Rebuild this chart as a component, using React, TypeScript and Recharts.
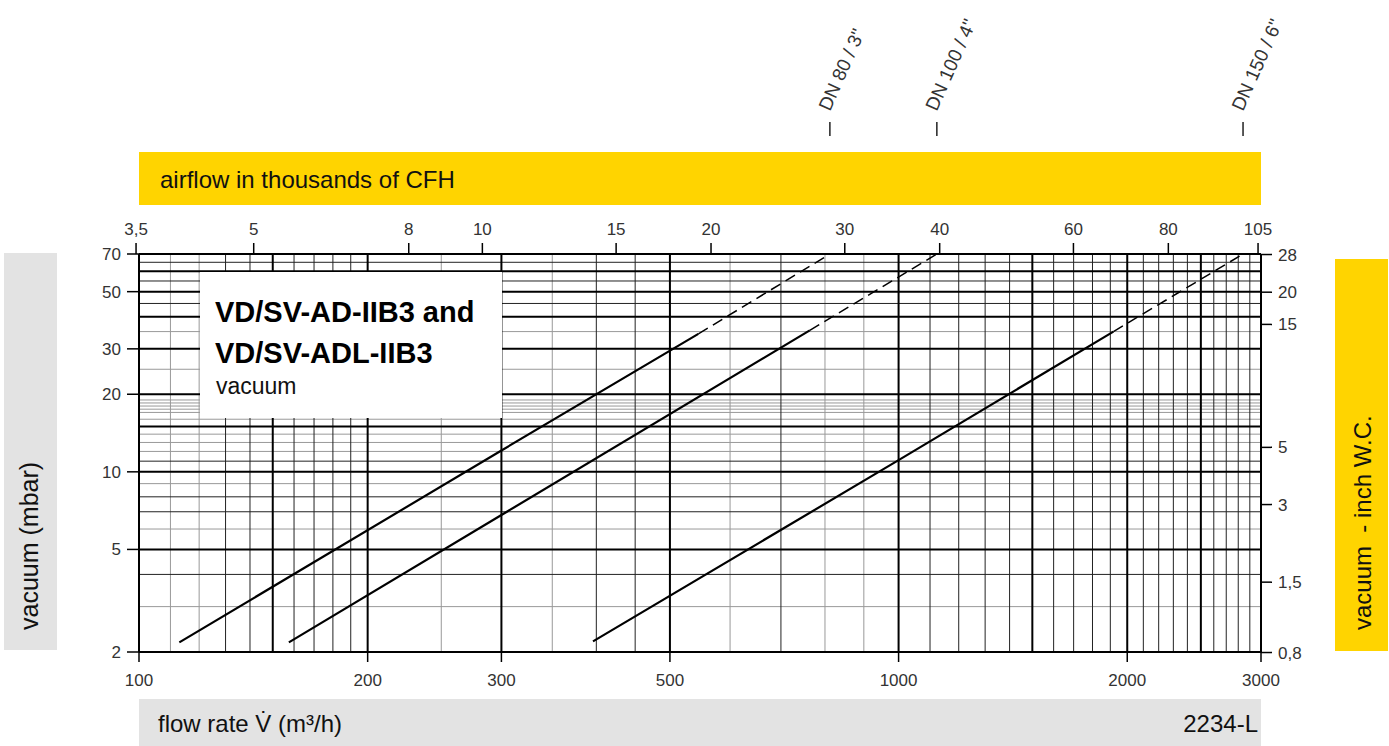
import React from "react";
import { ComposedChart, Line, XAxis, YAxis, ReferenceLine } from "recharts";

// axis ticks
const flowTicks = [100, 200, 300, 500, 1000, 2000, 3000]; // m³/h
const vacuumTicks = [2, 5, 10, 20, 30, 50, 70]; // mbar
const cfhTicks = [3.5, 5, 8, 10, 15, 20, 30, 40, 60, 80, 105]; // thousands of CFH
const inchTicks = [0.8, 1.5, 3, 5, 15, 20, 28]; // inch W.C.

// log grid (m³/h and mbar)
const gridXMajor = [100, 150, 200, 300, 500, 1000, 1500, 2000, 2500, 3000];
const gridXMinor = [130, 140, 160, 170, 180, 190, 400, 450, 700, 1100, 1200, 1300, 1400, 1600, 1700, 1800, 1900, 2100, 2200, 2300, 2400, 2600, 2700, 2800, 2900];
const gridXLight = [110, 120, 250, 350, 600, 800, 900];
const gridYMajor = [2, 5, 10, 15, 20, 30, 40, 50, 60, 70];
const gridYMinor = [4, 7, 8, 11, 45, 55, 65];
const gridYLight = [3, 6, 9, 12, 13, 14, 16, 17, 17.5, 18, 18.5, 19, 25, 35];

// curves: solid part and dashed extension
const dn80Solid = [{ q: 113, p: 2.18 }, { q: 300, p: 12.1 }, { q: 545, p: 34.3 }];
const dn80Dashed = [{ q: 545, p: 34.3 }, { q: 812, p: 70 }];
const dn100Solid = [{ q: 157.5, p: 2.18 }, { q: 300, p: 6.8 }, { q: 764, p: 35.4 }];
const dn100Dashed = [{ q: 764, p: 35.4 }, { q: 1123, p: 70 }];
const dn150Solid = [{ q: 396, p: 2.2 }, { q: 1000, p: 11.1 }, { q: 1918, p: 35 }];
const dn150Dashed = [{ q: 1918, p: 35 }, { q: 2841, p: 70 }];

const series = [
  { name: "DN 80 / 3\"", solid: dn80Solid, dashed: dn80Dashed },
  { name: "DN 100 / 4\"", solid: dn100Solid, dashed: dn100Dashed },
  { name: "DN 150 / 6\"", solid: dn150Solid, dashed: dn150Dashed },
];

const M3_TO_CFT = 35.3147;
const INCH_TO_MBAR = 2.4884;

const font = "'Liberation Sans', Arial, Helvetica, sans-serif";
const comma = (v: number) => String(v).replace(".", ",");
const tickStyle = { fill: "#333", fontSize: 17, fontFamily: font };
const axisLine = { stroke: "#000", strokeWidth: 1.5 };
const tickLine = { stroke: "#000", strokeWidth: 1.5 };

const DnLabel = (props: any) => {
  const { viewBox, text } = props;
  const x = viewBox.x;
  const top = viewBox.y;
  return (
    <g>
      <line x1={x} x2={x} y1={top - 132} y2={top - 118} stroke="#222" strokeWidth={1.5} />
      <text
        x={x}
        y={top - 142}
        transform={`rotate(-66 ${x} ${top - 142})`}
        fontSize={19}
        fontFamily={font}
        fill="#333"
      >
        {text}
      </text>
    </g>
  );
};

const App = () => {
  const W = 1389;
  const H = 746;
  return (
    <div style={{ position: "absolute", left: 0, top: 0, width: W, height: H, background: "#fff", fontFamily: font }}>
      <ComposedChart width={W} height={H} margin={{ top: 224, left: 79, right: 68, bottom: 64 }}>
        <XAxis
          dataKey="q"
          type="number"
          scale="log"
          domain={[100, 3000]}
          allowDataOverflow
          ticks={flowTicks}
          interval={0}
          height={30}
          tick={tickStyle}
          tickSize={10}
          tickMargin={12}
          axisLine={axisLine}
          tickLine={tickLine}
        />
        <XAxis
          xAxisId="top"
          dataKey="q"
          orientation="top"
          type="number"
          scale="log"
          domain={[100, 3000]}
          allowDataOverflow
          ticks={cfhTicks.map((v) => (v * 1000) / M3_TO_CFT)}
          tickFormatter={(q: number) => comma(Math.round((q * M3_TO_CFT) / 100) / 10)}
          interval={0}
          height={30}
          tick={tickStyle}
          tickSize={11}
          tickMargin={8}
          axisLine={axisLine}
          tickLine={tickLine}
        />
        <YAxis
          type="number"
          scale="log"
          domain={[2, 70]}
          allowDataOverflow
          ticks={vacuumTicks}
          interval={0}
          width={60}
          tick={tickStyle}
          tickSize={12}
          tickMargin={6}
          axisLine={axisLine}
          tickLine={tickLine}
        />
        <YAxis
          yAxisId="r"
          orientation="right"
          type="number"
          scale="log"
          domain={[2, 70]}
          allowDataOverflow
          ticks={inchTicks.map((v) => v * INCH_TO_MBAR)}
          tickFormatter={(p: number) => comma(Math.round((p / INCH_TO_MBAR) * 10) / 10)}
          interval={0}
          width={60}
          tick={tickStyle}
          tickSize={11}
          tickMargin={6}
          axisLine={axisLine}
          tickLine={tickLine}
        />

        {gridXLight.map((v) => (
          <ReferenceLine key={"xl" + v} x={v} stroke="#999" strokeWidth={1} />
        ))}
        {gridYLight.map((v) => (
          <ReferenceLine key={"yl" + v} y={v} stroke="#999" strokeWidth={1} />
        ))}
        {gridXMinor.map((v) => (
          <ReferenceLine key={"xm" + v} x={v} stroke="#222" strokeWidth={1} />
        ))}
        {gridYMinor.map((v) => (
          <ReferenceLine key={"ym" + v} y={v} stroke="#222" strokeWidth={1} />
        ))}
        {gridXMajor.map((v) => (
          <ReferenceLine key={"xM" + v} x={v} stroke="#000" strokeWidth={2} />
        ))}
        {gridYMajor.map((v) => (
          <ReferenceLine key={"yM" + v} y={v} stroke="#000" strokeWidth={2} />
        ))}

        {/* invisible copy on the CFH axis so that axis gets drawn */}
        <Line
          xAxisId="top"
          data={dn80Solid}
          dataKey="p"
          stroke="none"
          dot={false}
          activeDot={false}
          legendType="none"
          isAnimationActive={false}
        />

        {series.map((s) => (
          <Line
            key={s.name + "s"}
            data={s.solid}
            dataKey="p"
            type="linear"
            stroke="#000"
            strokeWidth={2.2}
            dot={false}
            activeDot={false}
            isAnimationActive={false}
          />
        ))}
        {series.map((s) => (
          <Line
            key={s.name + "d"}
            data={s.dashed}
            dataKey="p"
            type="linear"
            stroke="#000"
            strokeWidth={1.5}
            strokeDasharray="11 6"
            dot={false}
            activeDot={false}
            isAnimationActive={false}
          />
        ))}
        {series.map((s) => (
          <ReferenceLine
            key={s.name + "l"}
            x={s.dashed[s.dashed.length - 1].q}
            stroke="none"
            label={(p: any) => <DnLabel viewBox={p.viewBox} text={s.name} />}
          />
        ))}
      </ComposedChart>

      <svg width={W} height={H} style={{ position: "absolute", left: 0, top: 0, pointerEvents: "none" }}>
        <rect x={139} y={152} width={1122} height={53} fill="#FFD400" />
        <text x={160} y={188} fontSize={24} fontFamily={font} fill="#111">
          airflow in thousands of CFH
        </text>

        <rect x={4} y={253} width={53} height={397} fill="#E3E3E3" />
        <text x={38} y={630} transform="rotate(-90 38 630)" fontSize={25} fontFamily={font} fill="#111">
          vacuum (mbar)
        </text>

        <rect x={1335} y={259} width={53} height={392} fill="#FFD400" />
        <text
          x={1371}
          y={630}
          transform="rotate(-90 1371 630)"
          fontSize={24}
          fontFamily={font}
          fill="#111"
          style={{ whiteSpace: "pre" }}
        >
          {"vacuum  - inch W.C."}
        </text>

        <rect x={139} y={699} width={1122} height={47} fill="#E3E3E3" />
        <text x={158} y={732} fontSize={24} fontFamily={font} fill="#111">
          {"flow rate V\u0307 (m³/h)"}
        </text>
        <text x={1258} y={732} fontSize={24} fontFamily={font} fill="#111" textAnchor="end">
          2234-L
        </text>

        <rect x={200} y={272} width={302} height={146} fill="#fff" />
        <text x={215} y={322} fontSize={29} fontWeight="bold" fontFamily={font} fill="#000">
          VD/SV-AD-IIB3 and
        </text>
        <text x={215} y={363} fontSize={29} fontWeight="bold" fontFamily={font} fill="#000">
          VD/SV-ADL-IIB3
        </text>
        <text x={216} y={394} fontSize={23} fontFamily={font} fill="#111">
          vacuum
        </text>
      </svg>
    </div>
  );
};

export default App;
